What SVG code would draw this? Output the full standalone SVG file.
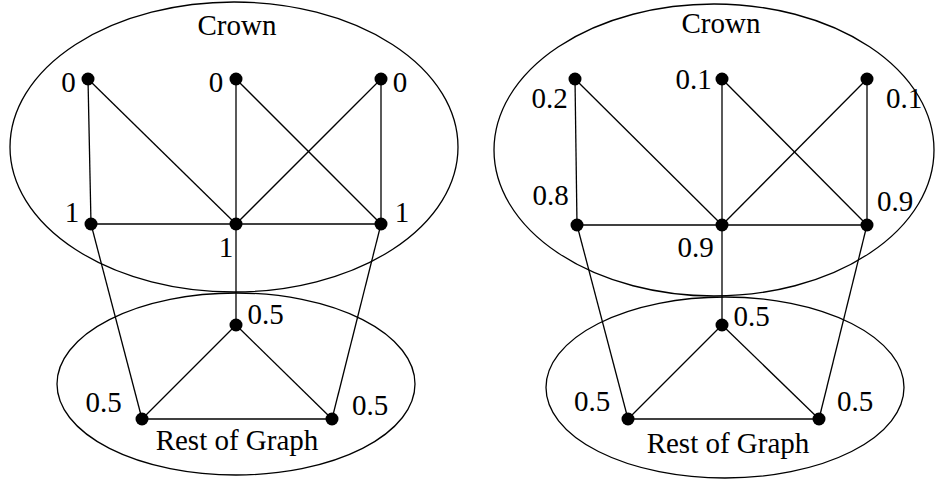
<svg xmlns="http://www.w3.org/2000/svg" width="935" height="481" viewBox="0 0 935 481">
<style>
.bg{fill:#fff}
.ell{fill:none;stroke:#000;stroke-width:1.3}
.e{stroke:#000;stroke-width:1.3;fill:none}
.n{fill:#000}
text{font-family:"Liberation Serif","Times New Roman",serif;font-size:29px;fill:#000;text-anchor:middle}
</style>
<rect class="bg" width="935" height="481"/>
<g id="regions">
<ellipse class="ell" cx="234" cy="147" rx="224" ry="145"/>
<text x="237" y="35">Crown</text>
<ellipse class="ell" cx="236" cy="384" rx="179" ry="91"/>
<text x="237" y="450">Rest of Graph</text>
<ellipse class="ell" cx="714" cy="150" rx="220" ry="146"/>
<text x="721" y="33">Crown</text>
<ellipse class="ell" cx="725" cy="387.5" rx="179" ry="90.5"/>
<text x="728" y="453">Rest of Graph</text>
</g>
<g id="connectors">
<line class="e" x1="88" y1="79" x2="91" y2="224"/>
<line class="e" x1="88" y1="79" x2="236" y2="224"/>
<line class="e" x1="236" y1="79" x2="236" y2="224"/>
<line class="e" x1="236" y1="79" x2="381" y2="224"/>
<line class="e" x1="381" y1="79" x2="236" y2="224"/>
<line class="e" x1="381" y1="79" x2="381" y2="224"/>
<line class="e" x1="91" y1="224" x2="381" y2="224"/>
<line class="e" x1="91" y1="224" x2="142" y2="419"/>
<line class="e" x1="381" y1="224" x2="332" y2="419"/>
<line class="e" x1="236" y1="224" x2="236" y2="325"/>
<line class="e" x1="236" y1="325" x2="142" y2="419"/>
<line class="e" x1="236" y1="325" x2="332" y2="419"/>
<line class="e" x1="142" y1="419" x2="332" y2="419"/>

<line class="e" x1="575" y1="79" x2="577" y2="225"/>
<line class="e" x1="575" y1="79" x2="722" y2="225"/>
<line class="e" x1="722" y1="79" x2="722" y2="225"/>
<line class="e" x1="722" y1="79" x2="867" y2="225"/>
<line class="e" x1="867" y1="79" x2="722" y2="225"/>
<line class="e" x1="867" y1="79" x2="867" y2="225"/>
<line class="e" x1="577" y1="225" x2="867" y2="225"/>
<line class="e" x1="577" y1="225" x2="628" y2="419"/>
<line class="e" x1="867" y1="225" x2="819" y2="419"/>
<line class="e" x1="722" y1="225" x2="722" y2="325"/>
<line class="e" x1="722" y1="325" x2="628" y2="419"/>
<line class="e" x1="722" y1="325" x2="819" y2="419"/>
<line class="e" x1="628" y1="419" x2="819" y2="419"/>
</g>
<g id="L-t1"><circle class="n" cx="88" cy="79" r="6.5"/><text x="68.5" y="92">0</text></g>
<g id="L-t2"><circle class="n" cx="236" cy="79" r="6.5"/><text x="216" y="92">0</text></g>
<g id="L-t3"><circle class="n" cx="381" cy="79" r="6.5"/><text x="400" y="92">0</text></g>
<g id="L-m1"><circle class="n" cx="91" cy="224" r="6.5"/><text x="72" y="222">1</text></g>
<g id="L-m2"><circle class="n" cx="236" cy="224" r="6.5"/><text x="226" y="257">1</text></g>
<g id="L-m3"><circle class="n" cx="381" cy="224" r="6.5"/><text x="402" y="222">1</text></g>
<g id="L-r1"><circle class="n" cx="236" cy="325" r="6.5"/><text x="265.5" y="324">0.5</text></g>
<g id="L-r2"><circle class="n" cx="142" cy="419" r="6.5"/><text x="103.5" y="412">0.5</text></g>
<g id="L-r3"><circle class="n" cx="332" cy="419" r="6.5"/><text x="370" y="415">0.5</text></g>

<g id="R-t1"><circle class="n" cx="575" cy="79" r="6.5"/><text x="549.5" y="108">0.2</text></g>
<g id="R-t2"><circle class="n" cx="722" cy="79" r="6.5"/><text x="693.5" y="89">0.1</text></g>
<g id="R-t3"><circle class="n" cx="867" cy="79" r="6.5"/><text x="904" y="108">0.1</text></g>
<g id="R-m1"><circle class="n" cx="577" cy="225" r="6.5"/><text x="550.5" y="205">0.8</text></g>
<g id="R-m2"><circle class="n" cx="722" cy="225" r="6.5"/><text x="695.5" y="257">0.9</text></g>
<g id="R-m3"><circle class="n" cx="867" cy="225" r="6.5"/><text x="895" y="211">0.9</text></g>
<g id="R-r1"><circle class="n" cx="722" cy="325" r="6.5"/><text x="751.5" y="326">0.5</text></g>
<g id="R-r2"><circle class="n" cx="628" cy="419" r="6.5"/><text x="592" y="411">0.5</text></g>
<g id="R-r3"><circle class="n" cx="819" cy="419" r="6.5"/><text x="855" y="411">0.5</text></g>
</svg>
